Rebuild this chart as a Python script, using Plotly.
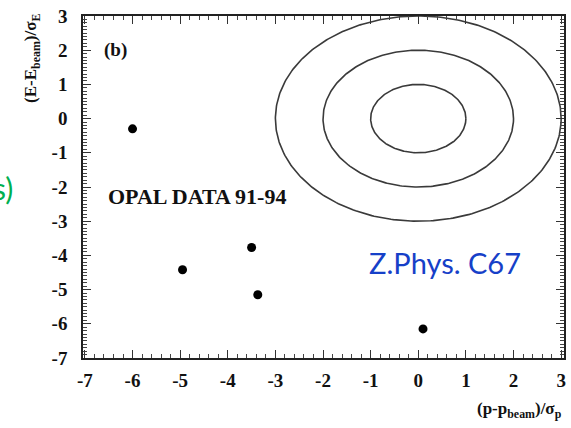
import numpy as np
import plotly.graph_objects as go

# Data points (normalized momentum vs energy deviations)
p_dev = [-6.0, -4.95, -3.5, -3.37, 0.1]
e_dev = [-0.3, -4.42, -3.77, -5.15, -6.15]

# Contour radii (in sigma units), centred at the origin
radii = [1, 2, 3]
center = (0.0, 0.0)

x_ticks = [-7, -6, -5, -4, -3, -2, -1, 0, 1, 2, 3]
y_ticks = [3, 2, 1, 0, -1, -2, -3, -4, -5, -6, -7]

fig = go.Figure()

theta = np.linspace(0, 2 * np.pi, 361)
for r in radii:
    fig.add_trace(go.Scatter(
        x=center[0] + r * np.cos(theta),
        y=center[1] + r * np.sin(theta),
        mode="lines",
        line=dict(color="#3a3a3a", width=1.6),
        hoverinfo="skip",
        showlegend=False,
    ))

fig.add_trace(go.Scatter(
    x=p_dev, y=e_dev, mode="markers",
    marker=dict(color="black", size=9),
    showlegend=False,
))

serif = "Liberation Serif"
axis_common = dict(
    showgrid=False, zeroline=False,
    showline=True, linecolor="#222", linewidth=1.5, mirror="ticks",
    ticks="inside", ticklen=8, tickwidth=1.2, tickcolor="#333",
    tickfont=dict(family=serif, size=19, color="#111", weight="bold"),
)

fig.update_xaxes(
    range=[-7.04, 3.06], tickmode="array", tickvals=x_ticks,
    ticktext=[str(v) for v in x_ticks],
    minor=dict(dtick=0.2, ticklen=4, tickwidth=1, tickcolor="#444", ticks="inside"),
    ticklabelstandoff=4,
    **axis_common,
)
fig.update_yaxes(
    range=[-7, 3], tickmode="array", tickvals=y_ticks,
    ticktext=[str(v) for v in y_ticks],
    minor=dict(dtick=0.1, ticklen=4, tickwidth=1, tickcolor="#444", ticks="inside"),
    ticklabelstandoff=10,
    **axis_common,
)

annotations = [
    dict(text="(b)", x=0.067, y=0.90, xref="paper", yref="paper",
         xanchor="center", yanchor="middle",
         showarrow=False, font=dict(family=serif, size=19, color="#111", weight="bold")),
    dict(text="OPAL DATA 91-94", x=0.237, y=0.471, xref="paper", yref="paper",
         xanchor="center", yanchor="middle",
         showarrow=False, font=dict(family=serif, size=22, color="#111", weight="bold")),
    dict(text="Z.Phys. C67", x=0.752, y=0.28, xref="paper", yref="paper",
         xanchor="center", yanchor="middle",
         showarrow=False, font=dict(family="Lato", size=29, color="#1640c8")),
    dict(text="s)", x=-0.1408, y=0.497, xref="paper", yref="paper",
         xanchor="right", yanchor="middle",
         showarrow=False, font=dict(family="Lato", size=30, color="#00b050")),
    dict(text="(p-p<sub>beam</sub>)/σ<sub>p</sub>", x=1.0, y=-0.152, xref="paper", yref="paper",
         xanchor="right", yanchor="middle", showarrow=False,
         font=dict(family=serif, size=17, color="#111", weight="bold")),
    dict(text="(E-E<sub>beam</sub>)/σ<sub>E</sub>", x=-0.1056, y=0.875, xref="paper", yref="paper",
         xanchor="center", yanchor="middle", textangle=-90, showarrow=False,
         font=dict(family=serif, size=17, color="#111", weight="bold")),
]

fig.update_layout(
    width=571, height=428,
    margin=dict(l=83, r=5, t=16, b=70),
    plot_bgcolor="white", paper_bgcolor="white",
    annotations=annotations,
)

fig.write_html("out.html")
